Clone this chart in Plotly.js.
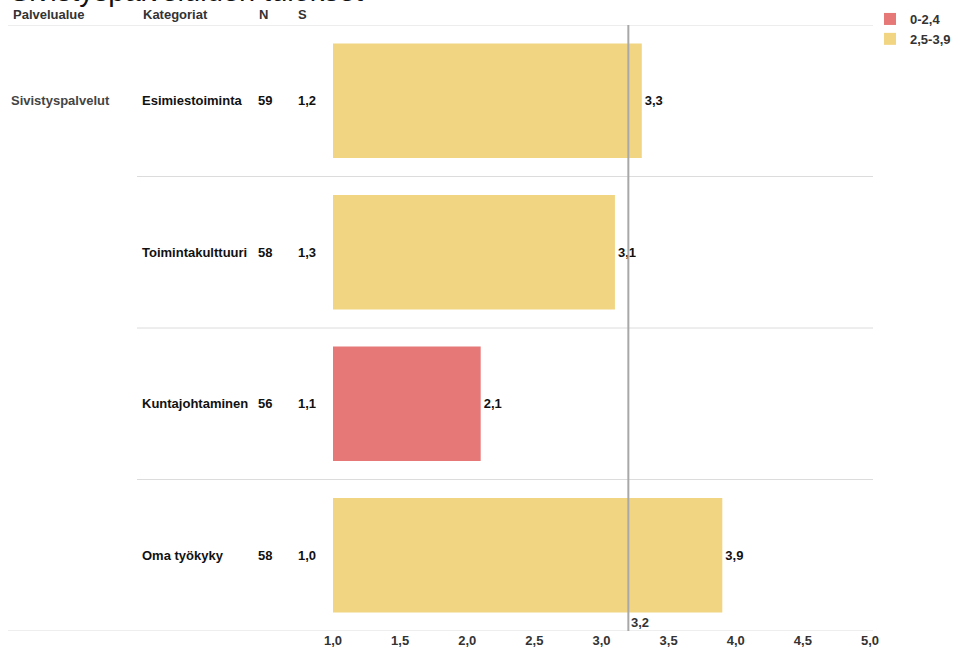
<!DOCTYPE html>
<html>
<head>
<meta charset="utf-8">
<script src="https://cdn.plot.ly/plotly-3.0.1.min.js"></script>
<style>
  html, body { margin: 0; padding: 0; background: #fff; }
  #chart { width: 962px; height: 652px; }
</style>
</head>
<body>
<div id="chart"></div>
<script>
// Survey results per category
const area = "Sivistyspalvelut";
const categories = ["Esimiestoiminta", "Toimintakulttuuri", "Kuntajohtaminen", "Oma työkyky"];
const means = [3.3, 3.1, 2.1, 3.9];
const counts = [59, 58, 56, 58];
const stdevs = [1.2, 1.3, 1.1, 1.0];
const overallMean = 3.2;

// Colour classes for the bars
const classNames = ["0-2,4", "2,5-3,9"];
const classColors = ["#e67878", "#f1d582"];
const classLimit = 2.5;

const headers = ["Palvelualue", "Kategoriat", "N", "S"];
const titleText = "Sivistyspalveluiden tulokset";

const FONT = "Liberation Sans, Arial, sans-serif";
const FS = 13;

// Pixel helpers for the paper coordinate system
const W = 962, H = 652;
const M = { l: 333, r: 92, t: 25, b: 21, autoexpand: false };
const PW = W - M.l - M.r, PH = H - M.t - M.b;
const px = x => (x - M.l) / PW;
const py = y => (H - M.b - y) / PH;

const traces = classNames.map((name, k) => ({
  type: "bar",
  orientation: "h",
  name: name,
  y: categories,
  x: means.map(v => ((v < classLimit) === (k === 0)) ? v : null),
  width: 0.755,
  marker: { color: classColors[k] },
  texttemplate: "%{x:.1f}",
  textposition: "outside",
  outsidetextfont: { family: FONT, size: FS, color: "#111", weight: "bold" },
  cliponaxis: false,
  hoverinfo: "skip"
}));

const annotations = [];
const hdrX = [11, 141, 257, 296];
headers.forEach((h, i) => annotations.push({
  xref: "paper", yref: "paper", x: px(hdrX[i]), y: py(15),
  xanchor: "left", yanchor: "middle", showarrow: false, text: h,
  font: { family: FONT, size: FS, color: "#333", weight: "bold" }
}));
annotations.push({
  xref: "paper", yref: "y", x: px(9), y: categories[0],
  xanchor: "left", yanchor: "middle", showarrow: false, text: area,
  font: { family: FONT, size: FS, color: "#444", weight: "bold" }
});
categories.forEach((c, i) => {
  annotations.push({
    xref: "paper", yref: "y", x: px(140), y: c, xanchor: "left", yanchor: "middle",
    showarrow: false, text: c, font: { family: FONT, size: FS, color: "#111", weight: "bold" }
  });
  annotations.push({
    xref: "paper", yref: "y", x: px(256), y: c, xanchor: "left", yanchor: "middle",
    showarrow: false, text: String(counts[i]), font: { family: FONT, size: FS, color: "#111", weight: "bold" }
  });
  annotations.push({
    xref: "paper", yref: "y", x: px(296), y: c, xanchor: "left", yanchor: "middle",
    showarrow: false, text: stdevs[i].toFixed(1).replace(".", ","),
    font: { family: FONT, size: FS, color: "#111", weight: "bold" }
  });
});
// overall mean label
annotations.push({
  xref: "x", yref: "paper", x: overallMean, y: py(622), xanchor: "left", yanchor: "middle",
  xshift: 1, showarrow: false, text: overallMean.toFixed(1).replace(".", ","),
  font: { family: FONT, size: FS, color: "#333", weight: "bold" }
});
// chart title, mostly above the visible area
annotations.push({
  xref: "paper", yref: "paper", x: px(8), y: py(9), xanchor: "left", yanchor: "bottom",
  showarrow: false, text: titleText, font: { family: FONT, size: 29, color: "#111" }
});

const shapes = [];
// table rules
const rowEdges = [-0.5, 0.5, 1.5, 2.5, 3.5];
rowEdges.forEach((e, i) => {
  const full = (i === 0 || i === rowEdges.length - 1);
  shapes.push({
    type: "line", xref: "paper", yref: "y",
    x0: px(full ? 8 : 137), x1: px(873), y0: e, y1: e,
    line: { color: "#dcdcdc", width: 1 }, layer: "below"
  });
});
// overall mean line
shapes.push({
  type: "line", xref: "x", yref: "paper", x0: overallMean, x1: overallMean, y0: 0, y1: 1,
  line: { color: "#a8a8a8", width: 2 }, layer: "above"
});

const layout = {
  width: W, height: H,
  margin: M,
  paper_bgcolor: "#fff", plot_bgcolor: "#fff",
  separators: ", ",
  barmode: "overlay",
  showlegend: true,
  legend: {
    x: px(870), y: py(4), xanchor: "left", yanchor: "top",
    font: { family: FONT, size: FS, color: "#333", weight: "bold" },
    itemwidth: 30, tracegroupgap: 0, bgcolor: "rgba(0,0,0,0)",
    traceorder: "normal"
  },
  xaxis: {
    range: [1, 5], tickvals: [1, 1.5, 2, 2.5, 3, 3.5, 4, 4.5, 5], tickformat: ".1f",
    showgrid: false, zeroline: false, showline: false, ticks: "",
    tickfont: { family: FONT, size: FS, color: "#333", weight: "bold" },
    fixedrange: true
  },
  yaxis: {
    type: "category", categoryorder: "array", categoryarray: categories,
    range: [3.5, -0.5], showticklabels: false, showgrid: false, zeroline: false,
    showline: false, ticks: "", fixedrange: true
  },
  annotations: annotations,
  shapes: shapes,
  font: { family: FONT }
};

Plotly.newPlot("chart", traces, layout, { displayModeBar: false, staticPlot: true });
</script>
</body>
</html>
